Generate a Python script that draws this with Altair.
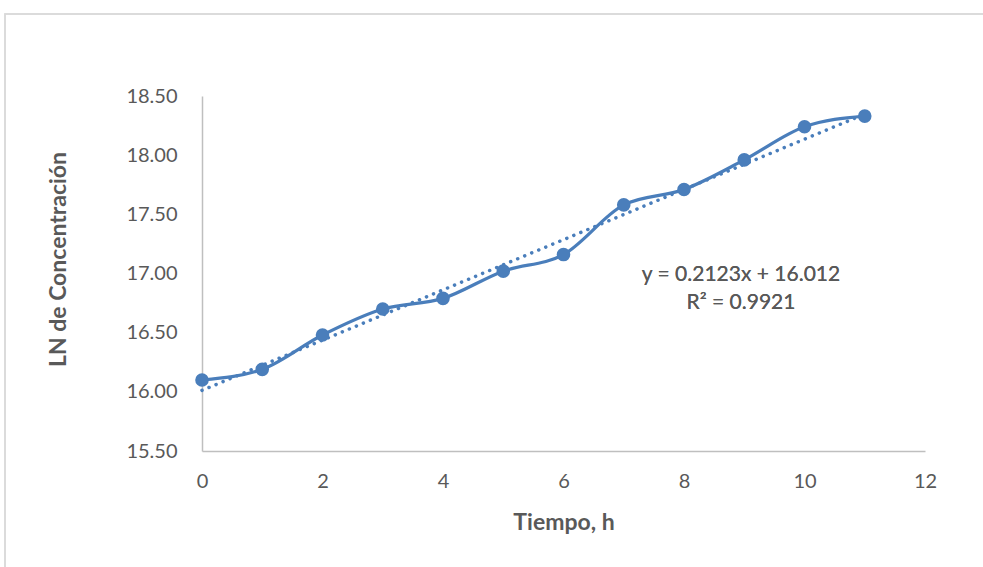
import altair as alt
import pandas as pd

# Sampling times (h) and natural log of concentration
tiempo = [0, 1, 2, 3, 4, 5, 6, 7, 8, 9, 10, 11]
ln_conc = [16.10, 16.19, 16.48, 16.70, 16.79, 17.02, 17.16, 17.58, 17.71, 17.96, 18.24, 18.33]

# Linear trendline coefficients and fit quality
pendiente = [0.2123]
intercepto = [16.012]
r2 = [0.9921]
trend_x = [0, 11]

x_ticks = [0, 2, 4, 6, 8, 10, 12]
y_ticks = [15.5, 16.0, 16.5, 17.0, 17.5, 18.0, 18.5]

FONT = "Lato"
BLUE = "#4a7ebb"
GREY_TXT = "#595959"

df = pd.DataFrame({"t": tiempo, "ln": ln_conc})
trend = pd.DataFrame({"t": trend_x})

x_scale = alt.Scale(domain=[0, 12], nice=False, zero=False)
y_scale = alt.Scale(domain=[15.5, 18.5], nice=False, zero=False)

x_axis = alt.Axis(
    title="Tiempo, h", values=x_ticks, format="d", grid=False, ticks=False,
    domainColor="#bfbfbf", domainWidth=1.5, labelPadding=20, labelFlush=False,
    labelFontSize=20, labelColor=GREY_TXT, labelFont=FONT,
    titleFontSize=23, titleFontWeight="bold", titleColor=GREY_TXT,
    titleFont=FONT, titlePadding=20,
)
y_axis = alt.Axis(
    title="LN de Concentración", values=y_ticks, format=".2f", grid=False,
    ticks=False, domainColor="#bfbfbf", domainWidth=1.5, labelPadding=25,
    labelFontSize=20, labelColor=GREY_TXT, labelFont=FONT, labelFlush=False,
    titleFontSize=23, titleFontWeight="bold", titleColor=GREY_TXT,
    titleFont=FONT, titlePadding=55, titleY=163,
)


def xq():
    return alt.X("t:Q", scale=x_scale, axis=x_axis)


def yq():
    return alt.Y("ln:Q", scale=y_scale, axis=y_axis)


# Outer frame around the chart area
frame = alt.Chart(trend).mark_rect(
    fill=None, stroke="#d9d9d9", strokeWidth=1.5, clip=False
).encode(
    x=alt.value(-197), x2=alt.value(800), y=alt.value(-82), y2=alt.value(500)
)

line = alt.Chart(df).mark_line(
    color=BLUE, strokeWidth=3.2, interpolate="monotone"
).encode(x=xq(), y=yq())

points = alt.Chart(df).mark_circle(
    color=BLUE, size=185, opacity=1
).encode(x=xq(), y=yq())

trendline = alt.Chart(trend).transform_calculate(
    ln=f"{intercepto[0]} + {pendiente[0]} * datum.t"
).mark_line(
    color=BLUE, strokeWidth=3.5, strokeDash=[0.1, 7.5], strokeCap="round"
).encode(x=xq(), y=yq())

eq_line = f"y = {pendiente[0]:.4f}x + {intercepto[0]:.3f}"
r2_line = f"R² = {r2[0]:.4f}"

label_eq = alt.Chart(trend).mark_text(
    font=FONT, fontSize=21, color=GREY_TXT, align="center", baseline="middle",
    text=eq_line,
).encode(x=alt.value(539), y=alt.value(179))

label_r2 = alt.Chart(trend).mark_text(
    font=FONT, fontSize=21, color=GREY_TXT, align="center", baseline="middle",
    text=r2_line,
).encode(x=alt.value(539), y=alt.value(207))

chart = alt.layer(frame, trendline, line, points, label_eq, label_r2).properties(
    width=723, height=355,
    autosize=alt.AutoSizeParams(type="none"),
    padding={"left": 202, "top": 96, "right": 58, "bottom": 116},
    background="white",
).configure_view(stroke=None)

chart.save("out.html", embed_options={"renderer": "svg", "actions": False})
